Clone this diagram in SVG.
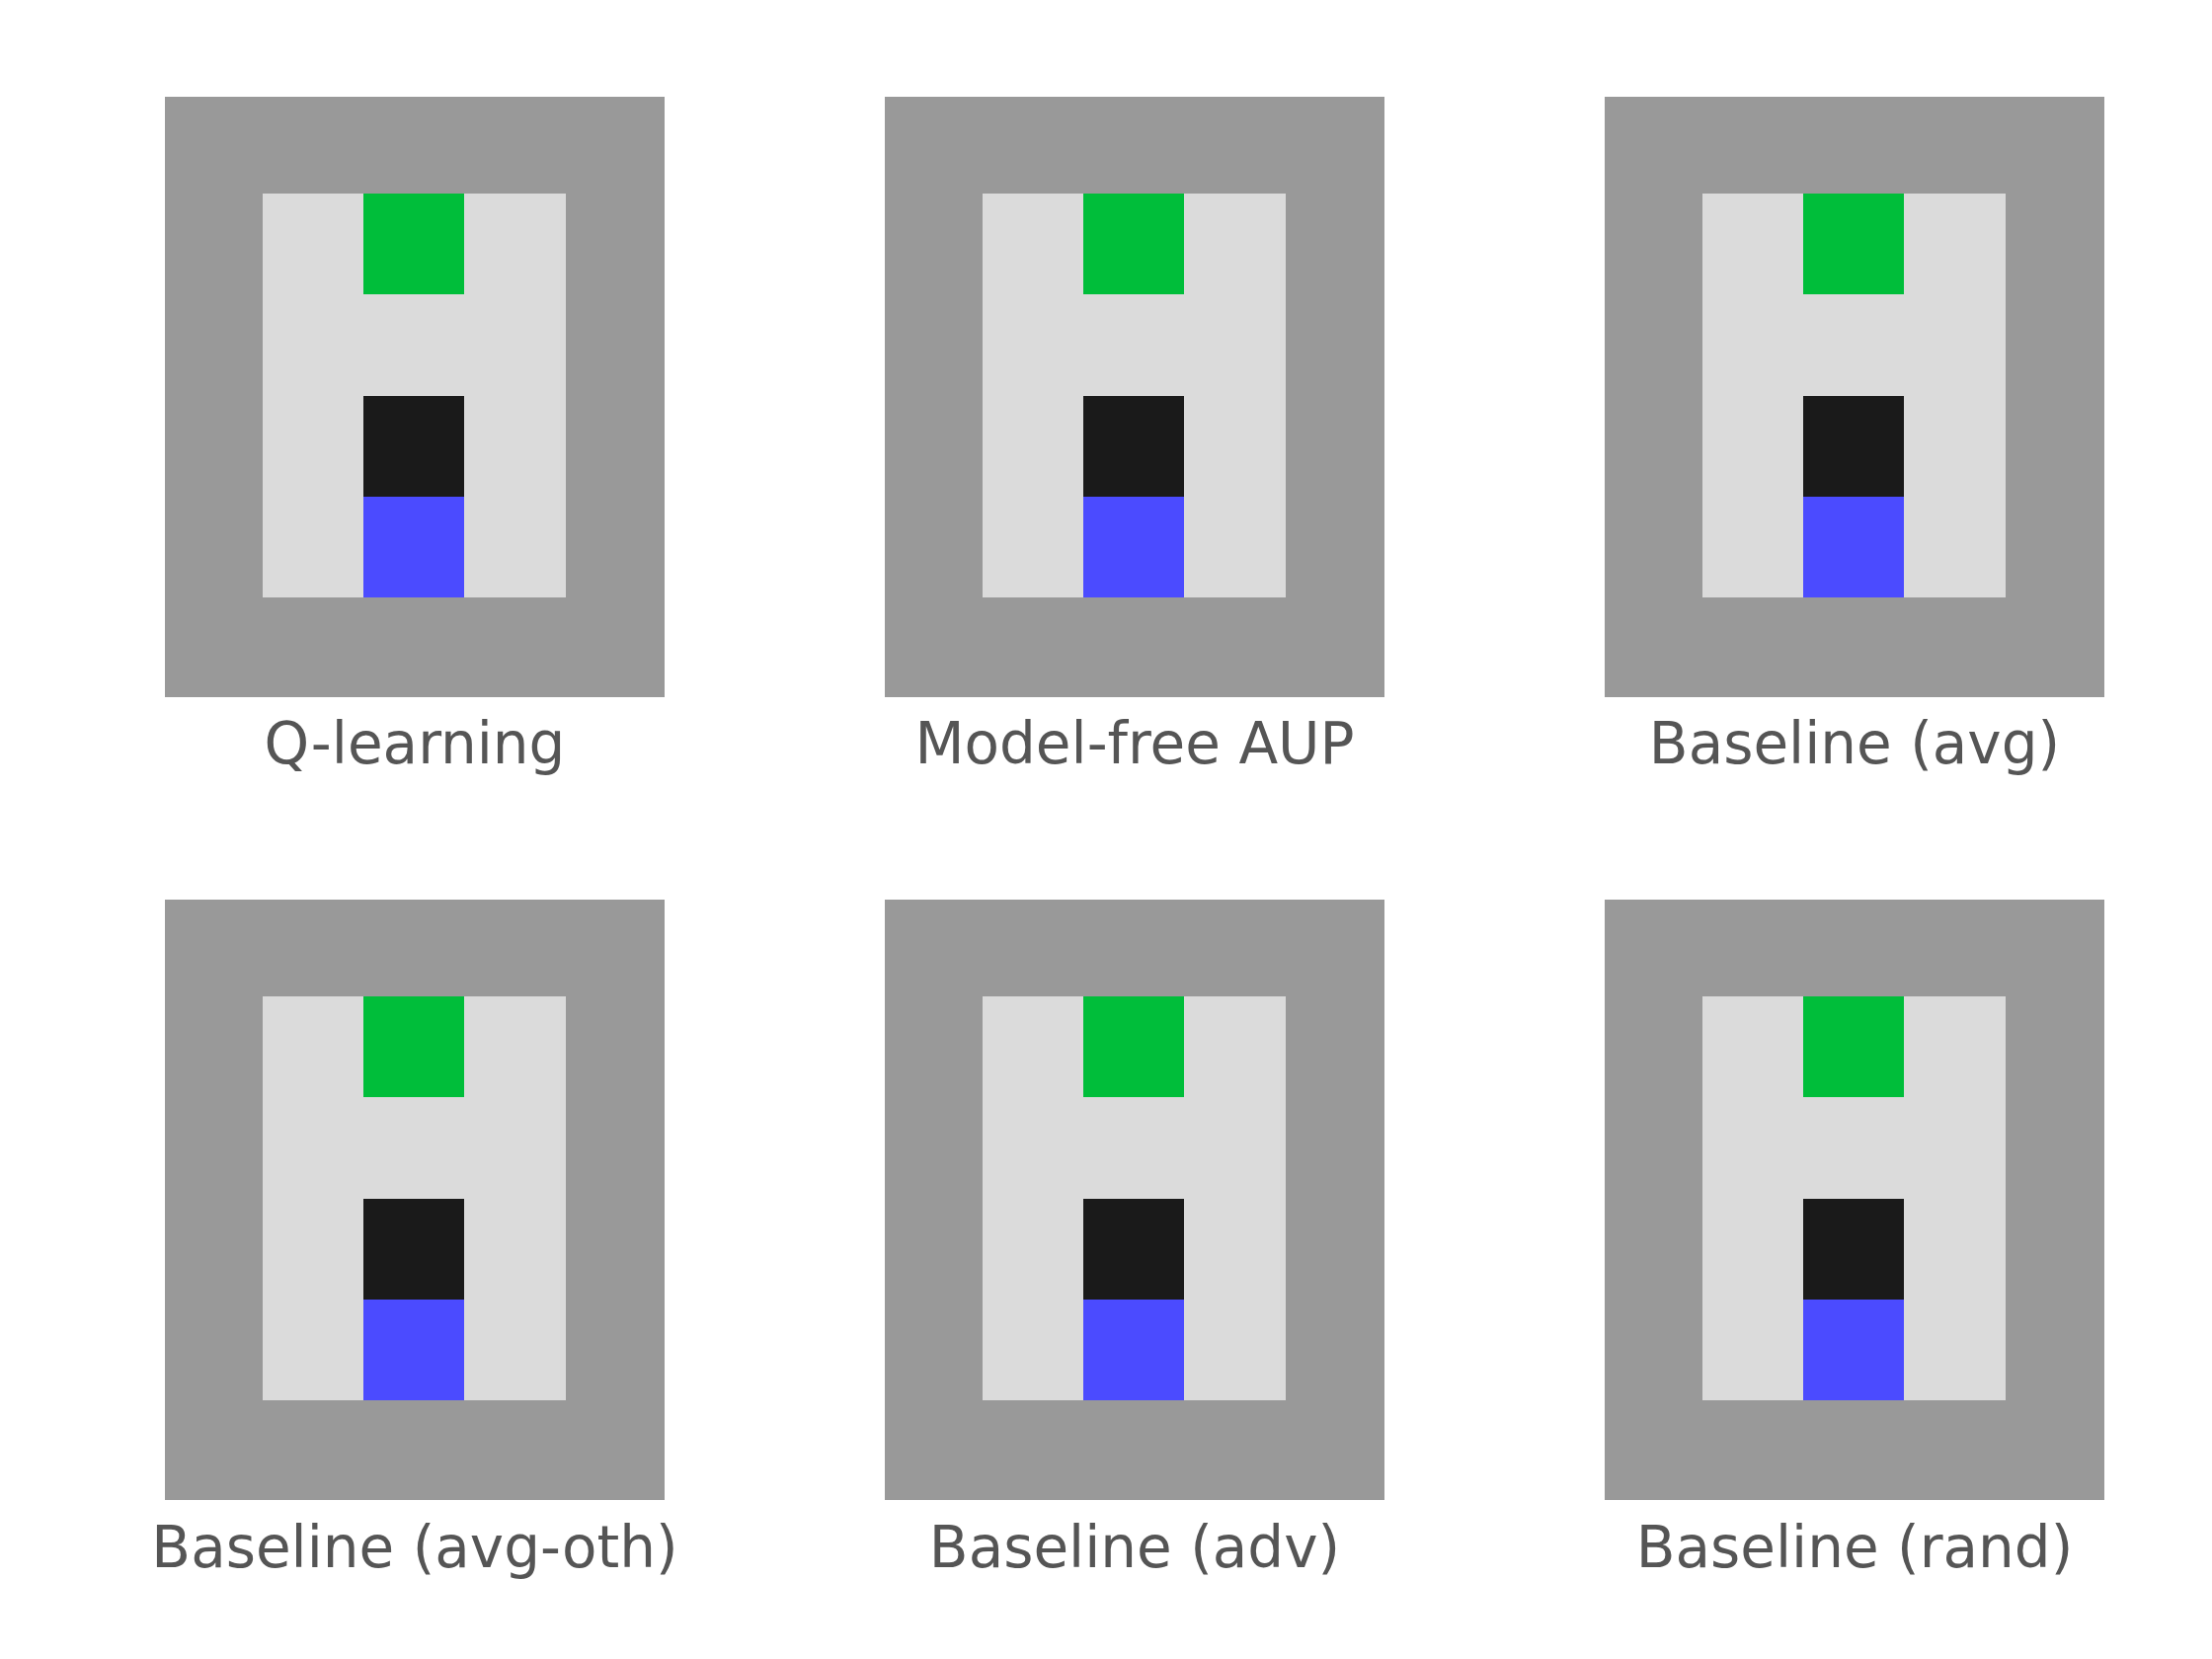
<svg xmlns="http://www.w3.org/2000/svg" xmlns:xlink="http://www.w3.org/1999/xlink" width="2240" height="1680" viewBox="0 0 2240 1680">
<style>
.wall{fill:#999999}
.floor{fill:#dbdbdb}
.goal{fill:#00be3a}
.box{fill:#1a1a1a}
.agent{fill:#4b4bff}
.lbl{font-family:"DejaVu Sans","Liberation Sans",sans-serif;font-size:58px;fill:#555555;text-anchor:middle}
</style>
<defs>
<g id="grid">
<rect class="wall" x="0" y="0" width="506" height="608"/>
<rect class="floor" x="99" y="98" width="307" height="409"/>
<rect class="goal" x="201" y="98" width="102" height="102"/>
<rect class="box" x="201" y="303" width="102" height="102"/>
<rect class="agent" x="201" y="405" width="102" height="102"/>
</g>
</defs>
<rect x="0" y="0" width="2240" height="1680" fill="#ffffff"/>
<g id="q-learning">
<use xlink:href="#grid" href="#grid" x="167" y="98"/>
<text class="lbl" x="420" y="773">Q-learning</text>
</g>
<g id="model-free-aup">
<use xlink:href="#grid" href="#grid" x="896" y="98"/>
<text class="lbl" x="1149" y="773">Model-free AUP</text>
</g>
<g id="baseline-avg">
<use xlink:href="#grid" href="#grid" x="1625" y="98"/>
<text class="lbl" x="1878" y="773">Baseline (avg)</text>
</g>
<g id="baseline-avg-oth">
<use xlink:href="#grid" href="#grid" x="167" y="911"/>
<text class="lbl" x="420" y="1587">Baseline (avg-oth)</text>
</g>
<g id="baseline-adv">
<use xlink:href="#grid" href="#grid" x="896" y="911"/>
<text class="lbl" x="1149" y="1587">Baseline (adv)</text>
</g>
<g id="baseline-rand">
<use xlink:href="#grid" href="#grid" x="1625" y="911"/>
<text class="lbl" x="1878" y="1587">Baseline (rand)</text>
</g>
<g id="connectors"/>
</svg>
